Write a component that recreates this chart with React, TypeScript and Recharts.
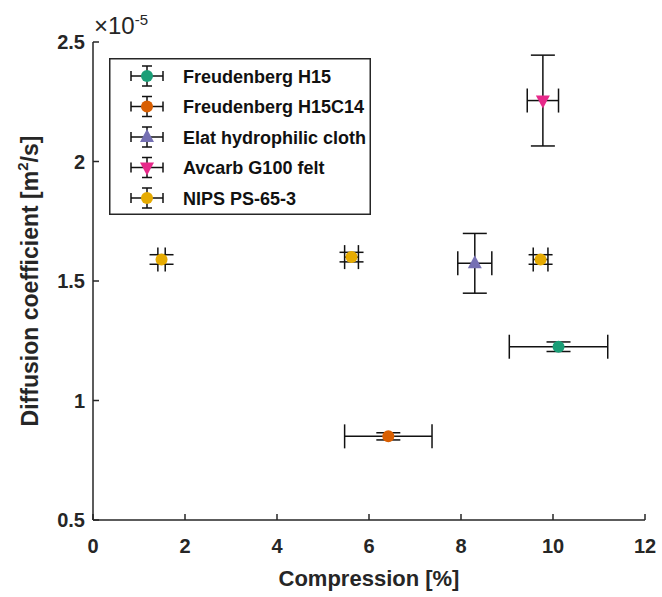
import { ScatterChart, Scatter, XAxis, YAxis, ErrorBar } from 'recharts';

const seriesNames = ['Freudenberg H15', 'Freudenberg H15C14', 'Elat hydrophilic cloth', 'Avcarb G100 felt', 'NIPS PS-65-3'];
const seriesColors = ['#1b9e77', '#d95f02', '#7570b3', '#e7298a', '#e6ab02'];
const seriesMarkers = ['circle', 'circle', 'up', 'down', 'circle'];

// compression [%], diffusion coefficient [x1e-5 m2/s], and their +/- errors
const h15Compression = [10.12];
const h15Diffusion = [1.225];
const h15CompressionErr = [1.07];
const h15DiffusionErr = [0.02];

const h15c14Compression = [6.42];
const h15c14Diffusion = [0.85];
const h15c14CompressionErr = [0.95];
const h15c14DiffusionErr = [0.015];

const elatCompression = [8.3];
const elatDiffusion = [1.574];
const elatCompressionErr = [0.37];
const elatDiffusionErr = [0.125];

const avcarbCompression = [9.78];
const avcarbDiffusion = [2.255];
const avcarbCompressionErr = [0.34];
const avcarbDiffusionErr = [0.19];

const nipsCompression = [1.49, 5.62, 9.73];
const nipsDiffusion = [1.59, 1.6, 1.59];
const nipsCompressionErr = [0.08, 0.15, 0.16];
const nipsDiffusionErr = [0.02, 0.02, 0.02];

const xTicks = [0, 2, 4, 6, 8, 10, 12];
const yTicks = [0.5, 1, 1.5, 2, 2.5];

const toPoints = (xs: number[], ys: number[], exs: number[], eys: number[]) =>
  xs.map((x, i) => ({ x, y: ys[i], ex: exs[i], ey: eys[i] }));

const series = [
  toPoints(h15Compression, h15Diffusion, h15CompressionErr, h15DiffusionErr),
  toPoints(h15c14Compression, h15c14Diffusion, h15c14CompressionErr, h15c14DiffusionErr),
  toPoints(elatCompression, elatDiffusion, elatCompressionErr, elatDiffusionErr),
  toPoints(avcarbCompression, avcarbDiffusion, avcarbCompressionErr, avcarbDiffusionErr),
  toPoints(nipsCompression, nipsDiffusion, nipsCompressionErr, nipsDiffusionErr),
];

const axisColor = '#262626';
const font = '"Liberation Sans", Arial, sans-serif';

const Marker = ({ cx, cy, fill, kind }: any) => {
  if (kind === 'up') {
    return <polygon points={`${cx},${cy - 8} ${cx - 7},${cy + 5} ${cx + 7},${cy + 5}`} fill={fill} />;
  }
  if (kind === 'down') {
    return <polygon points={`${cx},${cy + 8} ${cx - 7},${cy - 5} ${cx + 7},${cy - 5}`} fill={fill} />;
  }
  return <circle cx={cx} cy={cy} r={6} fill={fill} />;
};

const BottomTick = ({ x, y, payload }: any) => (
  <g>
    <line x1={x} y1={y} x2={x} y2={y - 6} stroke={axisColor} strokeWidth={1.5} />
    <text x={x} y={y + 33} textAnchor="middle" fontSize={20} fontWeight="bold" fontFamily={font} fill={axisColor}>
      {payload.value}
    </text>
  </g>
);

const TopTick = ({ x, y }: any) => <line x1={x} y1={y} x2={x} y2={y + 6} stroke={axisColor} strokeWidth={1.5} />;

const LeftTick = ({ x, y, payload }: any) => (
  <g>
    <line x1={x} y1={y} x2={x + 6} y2={y} stroke={axisColor} strokeWidth={1.5} />
    <text x={x - 8} y={y + 7} textAnchor="end" fontSize={20} fontWeight="bold" fontFamily={font} fill={axisColor}>
      {payload.value}
    </text>
  </g>
);

const RightTick = ({ x, y }: any) => <line x1={x} y1={y} x2={x - 6} y2={y} stroke={axisColor} strokeWidth={1.5} />;

const YTitle = ({ viewBox }: any) => {
  const cy = viewBox.y + viewBox.height / 2;
  return (
    <text
      transform={`translate(38,${cy}) rotate(-90)`}
      textAnchor="middle"
      fontSize={23}
      fontWeight="bold"
      fontFamily={font}
      fill={axisColor}
    >
      Diffusion coefficient [m<tspan dy={-10} fontSize={15}>2</tspan>
      <tspan dy={10}>/s]</tspan>
    </text>
  );
};

const XTitle = ({ viewBox }: any) => (
  <text
    x={viewBox.x + viewBox.width / 2}
    y={586}
    textAnchor="middle"
    fontSize={22}
    fontWeight="bold"
    fontFamily={font}
    fill={axisColor}
  >
    Compression [%]
  </text>
);

const LegendBox = () => (
  <svg width={262} height={157} style={{ position: 'absolute', left: 109, top: 58 }}>
    <rect x={0.75} y={0.75} width={260.5} height={155.5} fill="#fff" stroke={axisColor} strokeWidth={1.5} />
    {seriesNames.map((name, i) => {
      const cy = 18 + i * 30.5;
      return (
        <g key={name}>
          <line x1={22} y1={cy} x2={54} y2={cy} stroke="#111" strokeWidth={1.5} />
          <line x1={22} y1={cy - 5} x2={22} y2={cy + 5} stroke="#111" strokeWidth={1.5} />
          <line x1={54} y1={cy - 5} x2={54} y2={cy + 5} stroke="#111" strokeWidth={1.5} />
          <line x1={38} y1={cy - 10} x2={38} y2={cy + 10} stroke="#111" strokeWidth={1.5} />
          <line x1={33} y1={cy - 10} x2={43} y2={cy - 10} stroke="#111" strokeWidth={1.5} />
          <line x1={33} y1={cy + 10} x2={43} y2={cy + 10} stroke="#111" strokeWidth={1.5} />
          <Marker cx={38} cy={cy} fill={seriesColors[i]} kind={seriesMarkers[i]} />
          <text x={74} y={cy + 6.5} fontSize={18} fontWeight="bold" fontFamily={font} fill="#111">
            {name}
          </text>
        </g>
      );
    })}
  </svg>
);

export default function App() {
  return (
    <div style={{ position: 'absolute', left: 0, top: 0, width: 662, height: 597, background: '#fff' }}>
      <ScatterChart width={662} height={597} margin={{ top: 42, right: 17, bottom: 0, left: 0 }}>
        <XAxis
          type="number"
          dataKey="x"
          domain={[0, 12]}
          ticks={xTicks}
          height={77}
          tickSize={0}
          tickMargin={0}
          tick={<BottomTick />}
          axisLine={{ stroke: axisColor, strokeWidth: 1.5 }}
          label={<XTitle />}
        />
        <XAxis
          xAxisId="top"
          orientation="top"
          type="number"
          domain={[0, 12]}
          ticks={xTicks}
          height={0}
          tickSize={0}
          tickMargin={0}
          tick={<TopTick />}
          axisLine={{ stroke: axisColor, strokeWidth: 1.5 }}
        />
        <YAxis
          type="number"
          dataKey="y"
          domain={[0.5, 2.5]}
          ticks={yTicks}
          width={93}
          tickSize={0}
          tickMargin={0}
          tick={<LeftTick />}
          axisLine={{ stroke: axisColor, strokeWidth: 1.5 }}
          label={<YTitle />}
        />
        <YAxis
          yAxisId="right"
          orientation="right"
          type="number"
          domain={[0.5, 2.5]}
          ticks={yTicks}
          width={0}
          tickSize={0}
          tickMargin={0}
          tick={<RightTick />}
          axisLine={{ stroke: axisColor, strokeWidth: 1.5 }}
        />
        {series.map((data, i) => (
          <Scatter
            key={seriesNames[i]}
            name={seriesNames[i]}
            data={data}
            fill={seriesColors[i]}
            isAnimationActive={false}
            shape={(p: any) => <Marker cx={p.cx} cy={p.cy} fill={seriesColors[i]} kind={seriesMarkers[i]} />}
          >
            <ErrorBar dataKey="ex" direction="x" width={12} stroke="#111" strokeWidth={1.5} />
            <ErrorBar dataKey="ey" direction="y" width={12} stroke="#111" strokeWidth={1.5} />
          </Scatter>
        ))}
      </ScatterChart>
      <LegendBox />
      <div
        style={{ position: 'absolute', left: 94, top: 8, fontFamily: font, fontSize: 24, color: axisColor, lineHeight: '24px' }}
      >
        ×10<sup style={{ fontSize: 15 }}>-5</sup>
      </div>
    </div>
  );
}
